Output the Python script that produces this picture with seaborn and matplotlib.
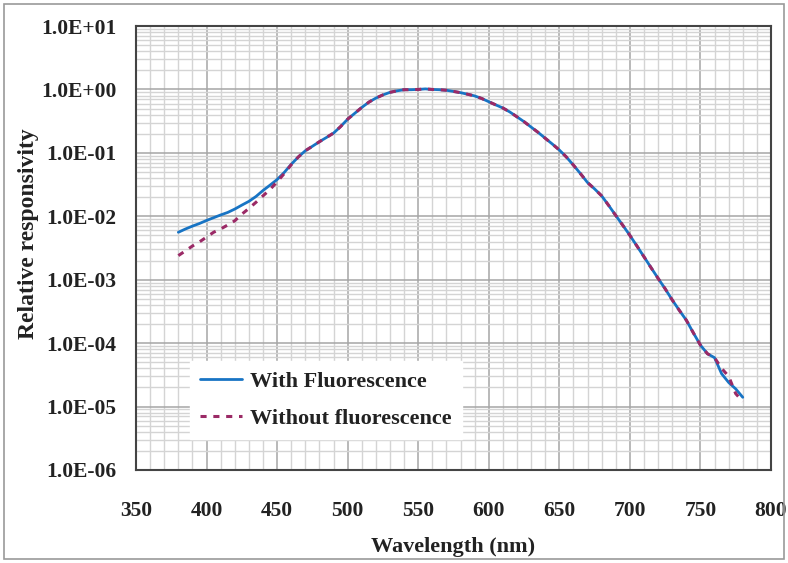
import numpy as np
import pandas as pd
import matplotlib
matplotlib.use("Agg")
import matplotlib.pyplot as plt
from matplotlib.ticker import FuncFormatter, MultipleLocator, LogLocator
from matplotlib.patches import Rectangle
import seaborn as sns

# Wavelength grid (nm)
wavelength = list(range(380, 785, 5))

# Relative responsivity including the fluorescence contribution
with_fluorescence = [
    5.6e-3, 6.3e-3, 7.0e-3, 7.7e-3, 8.6e-3, 9.5e-3, 1.05e-2, 1.15e-2, 1.3e-2, 1.5e-2,
    1.72e-2, 2.05e-2, 2.55e-2, 3.1e-2, 3.8e-2, 4.9e-2, 6.6e-2, 8.6e-2, 0.108, 0.127,
    0.15, 0.175, 0.205, 0.26, 0.34, 0.42, 0.52, 0.63, 0.73, 0.82,
    0.90, 0.95, 0.99, 0.99, 1.0, 1.02, 1.0, 0.99, 0.97, 0.93,
    0.89, 0.84, 0.79, 0.72, 0.64, 0.57, 0.51, 0.44, 0.37, 0.31,
    0.255, 0.21, 0.17, 0.138, 0.111, 0.086, 0.064, 0.047, 0.034, 0.027,
    0.021, 0.0148, 0.0103, 0.0072, 0.0050, 0.0034, 0.0023, 0.00155, 0.00105, 0.00072,
    0.00048, 0.00033, 0.00023, 0.000145, 9.3e-5, 6.8e-5, 5.9e-5, 3.3e-5, 2.4e-5, 1.9e-5,
    1.4e-5,
]

# Relative responsivity with the fluorescence removed
without_fluorescence = [
    2.4e-3, 2.85e-3, 3.4e-3, 3.95e-3, 4.7e-3, 5.6e-3, 6.3e-3, 7.3e-3, 8.5e-3, 1.08e-2,
    1.33e-2, 1.66e-2, 2.1e-2, 2.65e-2, 3.5e-2, 4.7e-2, 6.5e-2, 8.6e-2, 0.108, 0.127,
    0.15, 0.175, 0.205, 0.26, 0.34, 0.42, 0.52, 0.63, 0.73, 0.82,
    0.90, 0.95, 0.99, 0.99, 1.0, 1.02, 1.0, 0.99, 0.97, 0.93,
    0.89, 0.84, 0.79, 0.72, 0.64, 0.57, 0.51, 0.44, 0.37, 0.31,
    0.255, 0.21, 0.17, 0.138, 0.111, 0.086, 0.064, 0.047, 0.034, 0.027,
    0.021, 0.0148, 0.0103, 0.0072, 0.0050, 0.0034, 0.0023, 0.00155, 0.00105, 0.00072,
    0.00048, 0.00033, 0.00023, 0.000145, 9.3e-5, 6.8e-5, 5.9e-5, 4.0e-5, 3.0e-5, 1.6e-5,
    1.2e-5,
]

series_names = ["With Fluorescence", "Without fluorescence"]
x_ticks = [350, 400, 450, 500, 550, 600, 650, 700, 750, 800]

sns.set_theme(style="white")
plt.rcParams["font.family"] = ["Liberation Serif", "DejaVu Serif"]
plt.rcParams["font.weight"] = "bold"

fig = plt.figure(figsize=(7.88, 5.63), dpi=100)
ax = fig.add_axes([0.1726, 0.1652, 0.8058, 0.7886])

df_with = pd.DataFrame({"wl": wavelength, "r": with_fluorescence})
df_without = pd.DataFrame({"wl": wavelength, "r": without_fluorescence})

sns.lineplot(data=df_with, x="wl", y="r", ax=ax, color="#1874c4",
             linewidth=2.0, label=series_names[0], zorder=3)
sns.lineplot(data=df_without, x="wl", y="r", ax=ax, color="#9b2a66",
             linewidth=2.2, linestyle=(0, (2, 2.2)), label=series_names[1], zorder=4)

ax.set_yscale("log")
ax.set_xlim(350, 800)
ax.set_ylim(1e-6, 1e1)

ax.xaxis.set_major_locator(MultipleLocator(50))
ax.xaxis.set_minor_locator(MultipleLocator(10))
ax.set_xticks(x_ticks)
ax.yaxis.set_major_locator(LogLocator(base=10, numticks=20))
ax.yaxis.set_minor_locator(LogLocator(base=10, subs=np.arange(2, 10), numticks=20))
ax.yaxis.set_major_formatter(FuncFormatter(lambda v, p: f"{v:.1E}"))

ax.grid(which="major", color="#a6a6a6", linewidth=1.1)
ax.grid(which="minor", color="#d4d4d4", linewidth=1.0)
ax.set_axisbelow(True)

ax.tick_params(axis="both", which="both", length=0, labelsize=15.5,
               colors="#222222")
ax.tick_params(axis="x", pad=22)
ax.tick_params(axis="y", pad=14)
for lab in ax.get_xticklabels() + ax.get_yticklabels():
    lab.set_fontweight("bold")

for side in ["left", "right", "top", "bottom"]:
    ax.spines[side].set_visible(True)
    ax.spines[side].set_color("#444444")
    ax.spines[side].set_linewidth(1.5)

ax.set_xlabel("Wavelength (nm)", fontsize=16, fontweight="bold", color="#222222", labelpad=12)
ax.set_ylabel("Relative responsivity", fontsize=17, fontweight="bold", color="#222222")
ax.yaxis.set_label_coords(-0.152, 0.532)

leg = ax.legend(loc="lower left", bbox_to_anchor=(0.085, 0.07), frameon=True,
                fancybox=False, edgecolor="white", facecolor="white", framealpha=1.0,
                prop={"family": "Liberation Serif", "weight": "bold", "size": 16},
                handlelength=1.9, handletextpad=0.35, labelspacing=0.75, borderpad=0.45,
                borderaxespad=0.0)
for t in leg.get_texts():
    t.set_color("#222222")

# Thin grey frame round the whole figure
fig.patches.append(Rectangle((0.005, 0.007), 0.99, 0.986, transform=fig.transFigure,
                             fill=False, edgecolor="#9a9a9a", linewidth=1.2))

fig.savefig("out.png", dpi=100)
